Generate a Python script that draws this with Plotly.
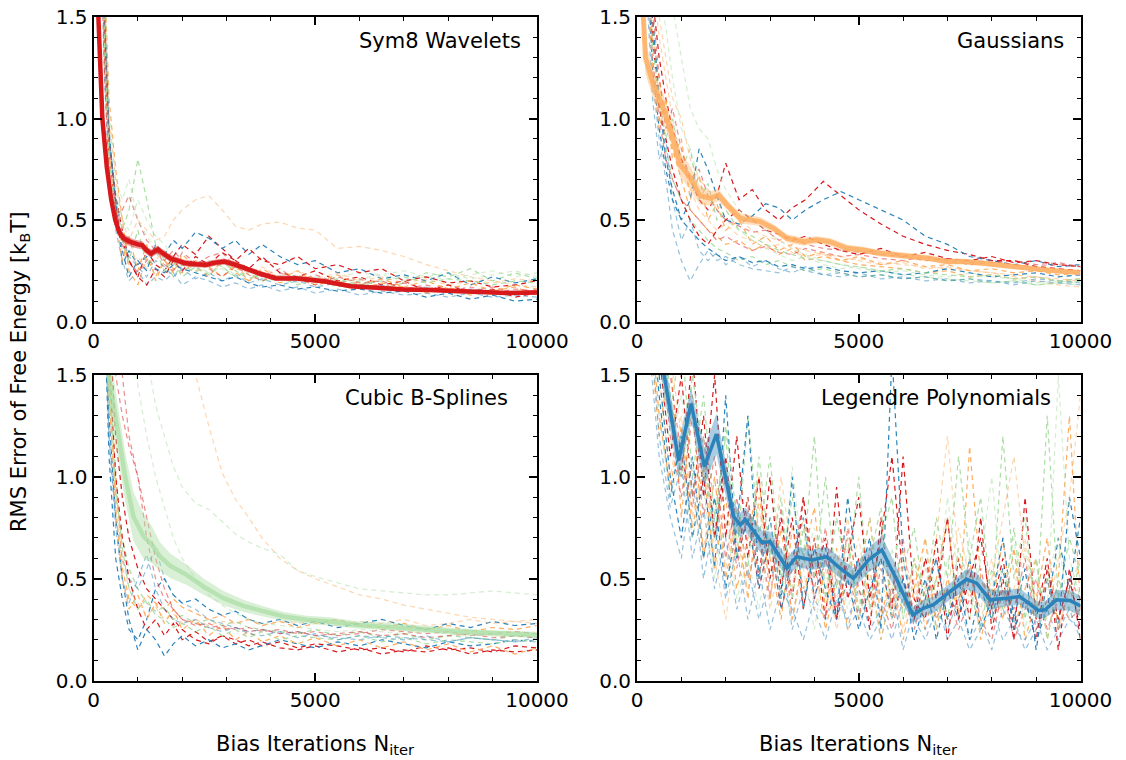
import plotly.graph_objects as go

# ---------------- data ----------------
RUN_X = [50, 150, 250, 350, 500, 650, 800, 1000, 1200, 1400,
         1600, 1800, 2000, 2300, 2600, 2900, 3200, 3500, 3800, 4200,
         4600, 5000, 5500, 6000, 6500, 7000, 7500, 8000, 8500, 9000,
         9500, 10000]

LEG_RUN_X = [100, 250, 500, 750, 1000, 1250, 1500, 1750, 2000, 2250,
             2500, 2750, 3000, 3250, 3500, 3750, 4000, 4250, 4500, 4750,
             5000, 5250, 5500, 5750, 6000, 6250, 6500, 6750, 7000, 7250,
             7500, 7750, 8000, 8250, 8500, 8750, 9000, 9250, 9500, 9750,
             10000]

RUN_COLORS = ["#d7191c", "#fdae61", "#abdda4", "#2b83ba", "#d7191c",
              "#fdae61", "#abdda4", "#2b83ba", "#d7191c", "#2b83ba",
              "#fdae61", "#abdda4", "#d7191c", "#2b83ba", "#fdae61",
              "#abdda4"]
RUN_ALPHA = [1.0, 1.0, 1.0, 1.0, 0.5, 0.5, 0.5, 0.5, 1.0, 1.0,
             1.0, 1.0, 0.5, 0.5, 0.5, 0.5]

SYM8_RUNS = [
    [4.5, 2.6, 1.4, 0.9, 0.62, 0.45, 0.3, 0.22, 0.35, 0.28,
     0.25, 0.32, 0.38, 0.33, 0.42, 0.36, 0.3, 0.26, 0.32, 0.24,
     0.22, 0.25, 0.2, 0.22, 0.18, 0.2, 0.15, 0.18, 0.14, 0.16,
     0.12, 0.14],
    [5.0, 3.0, 1.7, 1.1, 0.75, 0.5, 0.25, 0.18, 0.32, 0.22,
     0.3, 0.26, 0.24, 0.3, 0.27, 0.22, 0.28, 0.2, 0.24, 0.19,
     0.22, 0.18, 0.2, 0.16, 0.19, 0.17, 0.14, 0.17, 0.13, 0.15,
     0.17, 0.13],
    [3.8, 2.2, 1.3, 0.85, 0.6, 0.45, 0.55, 0.8, 0.6, 0.38,
     0.3, 0.22, 0.28, 0.24, 0.3, 0.27, 0.22, 0.25, 0.2, 0.22,
     0.18, 0.21, 0.17, 0.2, 0.16, 0.19, 0.24, 0.22, 0.26, 0.2,
     0.24, 0.21],
    [4.2, 2.5, 1.5, 0.95, 0.55, 0.35, 0.22, 0.3, 0.25, 0.38,
     0.33, 0.4, 0.36, 0.44, 0.41, 0.36, 0.4, 0.33, 0.38, 0.32,
     0.28, 0.3, 0.24, 0.26, 0.21, 0.23, 0.2, 0.24, 0.18, 0.22,
     0.19, 0.21],
    [3.5, 2.0, 1.2, 0.75, 0.5, 0.55, 0.62, 0.5, 0.4, 0.35,
     0.3, 0.35, 0.3, 0.28, 0.32, 0.34, 0.27, 0.25, 0.22, 0.26,
     0.2, 0.23, 0.19, 0.21, 0.17, 0.19, 0.16, 0.18, 0.15, 0.17,
     0.14, 0.16],
    [4.8, 2.8, 1.6, 1.0, 0.7, 0.5, 0.4, 0.5, 0.45, 0.4,
     0.42, 0.5, 0.55, 0.6, 0.62, 0.55, 0.47, 0.45, 0.48, 0.49,
     0.46, 0.45, 0.36, 0.37, 0.35, 0.32, 0.28, 0.25, 0.22, 0.2,
     0.18, 0.17],
    [4.0, 2.4, 1.4, 0.9, 0.65, 0.5, 0.45, 0.6, 0.5, 0.42,
     0.38, 0.3, 0.25, 0.28, 0.24, 0.26, 0.22, 0.24, 0.2, 0.21,
     0.19, 0.2, 0.22, 0.24, 0.23, 0.25, 0.22, 0.21, 0.23, 0.25,
     0.22, 0.24],
    [3.6, 2.1, 1.2, 0.7, 0.45, 0.3, 0.2, 0.25, 0.18, 0.22,
     0.2, 0.24, 0.18, 0.22, 0.2, 0.17, 0.19, 0.16, 0.18, 0.15,
     0.17, 0.14, 0.16, 0.13, 0.15, 0.13, 0.14, 0.12, 0.14, 0.12,
     0.13, 0.12],
    [4.0, 2.3, 1.3, 0.8, 0.55, 0.4, 0.3, 0.22, 0.18, 0.26,
     0.22, 0.3, 0.25, 0.32, 0.28, 0.34, 0.3, 0.36, 0.3, 0.28,
     0.32, 0.26, 0.28, 0.24, 0.26, 0.2, 0.22, 0.19, 0.2, 0.17,
     0.18, 0.2],
    [4.6, 2.7, 1.5, 0.9, 0.6, 0.28, 0.35, 0.28, 0.32, 0.26,
     0.24, 0.28, 0.26, 0.24, 0.22, 0.2, 0.22, 0.19, 0.17, 0.18,
     0.16, 0.17, 0.15, 0.16, 0.14, 0.15, 0.12, 0.14, 0.11, 0.13,
     0.1, 0.11],
    [4.3, 2.5, 1.45, 0.85, 0.5, 0.3, 0.42, 0.25, 0.38, 0.2,
     0.3, 0.24, 0.33, 0.27, 0.22, 0.3, 0.24, 0.2, 0.26, 0.21,
     0.25, 0.19, 0.23, 0.18, 0.21, 0.17, 0.2, 0.16, 0.19, 0.15,
     0.18, 0.16],
    [3.9, 2.3, 1.35, 0.8, 0.52, 0.4, 0.3, 0.45, 0.28, 0.35,
     0.25, 0.3, 0.22, 0.27, 0.23, 0.29, 0.25, 0.21, 0.24, 0.2,
     0.23, 0.19, 0.21, 0.18, 0.2, 0.22, 0.19, 0.21, 0.2, 0.18,
     0.2, 0.19],
    [4.1, 2.4, 1.45, 0.9, 0.58, 0.38, 0.3, 0.24, 0.3, 0.36,
     0.28, 0.25, 0.34, 0.29, 0.26, 0.22, 0.27, 0.23, 0.2, 0.24,
     0.21, 0.18, 0.22, 0.19, 0.2, 0.16, 0.18, 0.15, 0.17, 0.14,
     0.16, 0.15],
    [4.4, 2.6, 1.5, 0.92, 0.6, 0.42, 0.32, 0.27, 0.22, 0.3,
     0.27, 0.22, 0.26, 0.21, 0.24, 0.2, 0.23, 0.19, 0.21, 0.18,
     0.2, 0.17, 0.19, 0.16, 0.18, 0.15, 0.17, 0.14, 0.16, 0.15,
     0.14, 0.15],
    [3.7, 2.2, 1.3, 0.8, 0.55, 0.35, 0.28, 0.32, 0.26, 0.3,
     0.35, 0.28, 0.3, 0.25, 0.28, 0.3, 0.26, 0.24, 0.27, 0.22,
     0.25, 0.21, 0.24, 0.2, 0.22, 0.19, 0.21, 0.18, 0.2, 0.19,
     0.21, 0.2],
    [4.7, 2.9, 1.7, 1.05, 0.7, 0.6, 0.7, 0.5, 0.42, 0.36,
     0.32, 0.28, 0.3, 0.26, 0.24, 0.27, 0.23, 0.25, 0.21, 0.23,
     0.2, 0.22, 0.19, 0.21, 0.23, 0.2, 0.22, 0.24, 0.21, 0.23,
     0.25, 0.22],
]

GAUSS_RUNS = [
    [5.0, 3.0, 2.0, 1.6, 1.3, 1.1, 0.95, 0.8, 0.7, 0.6,
     0.55, 0.62, 0.78, 0.6, 0.65, 0.55, 0.5, 0.56, 0.6, 0.69,
     0.62, 0.55, 0.48, 0.42, 0.38, 0.35, 0.33, 0.3, 0.3, 0.27,
     0.26, 0.25],
    [4.5, 2.8, 1.8, 1.4, 1.2, 1.0, 0.85, 0.7, 0.55, 0.5,
     0.45, 0.42, 0.38, 0.4, 0.35, 0.38, 0.33, 0.36, 0.3, 0.32,
     0.3, 0.28, 0.27, 0.26, 0.24, 0.25, 0.22, 0.23, 0.21, 0.22,
     0.2, 0.21],
    [4.0, 2.6, 1.9, 1.5, 1.1, 0.85, 0.7, 0.6, 0.5, 0.45,
     0.4, 0.36, 0.34, 0.3, 0.32, 0.28, 0.3, 0.27, 0.25, 0.26,
     0.24, 0.22, 0.23, 0.21, 0.22, 0.2, 0.21, 0.19, 0.2, 0.18,
     0.19, 0.2],
    [4.8, 3.0, 2.0, 1.5, 1.1, 0.8, 0.65, 0.5, 0.6, 0.85,
     0.75, 0.62, 0.5, 0.48, 0.52, 0.58, 0.56, 0.5, 0.55, 0.6,
     0.64, 0.6, 0.55, 0.5, 0.42, 0.38, 0.32, 0.3, 0.28, 0.3,
     0.27, 0.28],
    [4.2, 2.7, 1.8, 1.3, 1.0, 0.8, 0.7, 0.6, 0.55, 0.5,
     0.45, 0.4, 0.42, 0.38, 0.35, 0.37, 0.34, 0.33, 0.36, 0.34,
     0.32, 0.33, 0.31, 0.3, 0.32, 0.3, 0.28, 0.29, 0.3, 0.28,
     0.29, 0.27],
    [5.2, 3.2, 2.2, 1.7, 1.4, 1.2, 1.0, 0.8, 0.65, 0.55,
     0.5, 0.45, 0.48, 0.42, 0.4, 0.36, 0.38, 0.34, 0.32, 0.33,
     0.3, 0.31, 0.29, 0.28, 0.27, 0.26, 0.25, 0.24, 0.22, 0.2,
     0.18, 0.17],
    [6.0, 3.5, 2.5, 2.0, 1.6, 1.45, 1.2, 0.95, 0.85, 0.7,
     0.6, 0.55, 0.5, 0.45, 0.4, 0.36, 0.33, 0.3, 0.32, 0.28,
     0.26, 0.27, 0.24, 0.25, 0.23, 0.22, 0.24, 0.22, 0.21, 0.19,
     0.2, 0.19],
    [3.8, 2.4, 1.6, 1.2, 0.9, 0.7, 0.45, 0.3, 0.2, 0.28,
     0.35, 0.3, 0.32, 0.28, 0.26, 0.25, 0.24, 0.27, 0.25, 0.23,
     0.24, 0.22, 0.23, 0.21, 0.22, 0.2, 0.21, 0.2, 0.19, 0.21,
     0.2, 0.19],
    [4.4, 2.9, 1.9, 1.4, 1.05, 0.9, 0.75, 0.6, 0.5, 0.42,
     0.38, 0.45, 0.5, 0.55, 0.5, 0.45, 0.43, 0.4, 0.42, 0.38,
     0.35, 0.33, 0.36, 0.32, 0.34, 0.31, 0.3, 0.32, 0.29, 0.3,
     0.28, 0.27],
    [4.1, 2.5, 1.7, 1.25, 0.95, 0.75, 0.6, 0.5, 0.45, 0.4,
     0.36, 0.33, 0.3, 0.32, 0.29, 0.3, 0.27, 0.28, 0.26, 0.27,
     0.25, 0.24, 0.25, 0.23, 0.24, 0.26, 0.24, 0.22, 0.23, 0.24,
     0.22, 0.23],
    [4.6, 2.9, 1.6, 1.25, 0.95, 1.1, 0.8, 0.9, 0.6, 0.72,
     0.5, 0.58, 0.45, 0.5, 0.38, 0.42, 0.35, 0.38, 0.32, 0.34,
     0.3, 0.32, 0.28, 0.3, 0.27, 0.28, 0.25, 0.26, 0.24, 0.25,
     0.23, 0.24],
    [5.5, 3.3, 1.9, 1.35, 1.1, 0.9, 1.0, 0.75, 0.85, 0.6,
     0.68, 0.5, 0.55, 0.45, 0.42, 0.38, 0.35, 0.33, 0.31, 0.3,
     0.28, 0.27, 0.25, 0.26, 0.24, 0.23, 0.22, 0.23, 0.21, 0.22,
     0.2, 0.21],
    [4.9, 3.1, 2.0, 1.55, 1.2, 0.95, 1.05, 0.85, 0.7, 0.75,
     0.62, 0.55, 0.5, 0.47, 0.44, 0.45, 0.4, 0.42, 0.38, 0.36,
     0.35, 0.34, 0.33, 0.32, 0.3, 0.31, 0.29, 0.3, 0.28, 0.27,
     0.28, 0.27],
    [4.3, 2.6, 1.5, 1.1, 0.8, 0.9, 0.6, 0.4, 0.5, 0.35,
     0.3, 0.34, 0.28, 0.32, 0.27, 0.3, 0.26, 0.24, 0.27, 0.23,
     0.22, 0.24, 0.21, 0.22, 0.2, 0.21, 0.19, 0.2, 0.18, 0.2,
     0.19, 0.18],
    [5.8, 3.4, 2.3, 1.8, 1.5, 1.3, 1.1, 1.0, 0.8, 0.7,
     0.65, 0.55, 0.6, 0.5, 0.45, 0.42, 0.4, 0.37, 0.35, 0.33,
     0.32, 0.3, 0.28, 0.29, 0.26, 0.27, 0.25, 0.24, 0.23, 0.22,
     0.21, 0.2],
    [7.0, 5.0, 3.5, 2.6, 2.0, 1.7, 1.55, 1.3, 1.05, 0.95,
     0.9, 0.75, 0.65, 0.55, 0.5, 0.45, 0.4, 0.36, 0.33, 0.3,
     0.28, 0.26, 0.25, 0.23, 0.22, 0.21, 0.2, 0.19, 0.2, 0.18,
     0.19, 0.18],
]

BSPL_RUNS = [
    [6.0, 4.0, 2.5, 1.8, 1.2, 0.9, 0.7, 0.55, 0.45, 0.4,
     0.35, 0.3, 0.25, 0.2, 0.18, 0.22, 0.2, 0.17, 0.19, 0.16,
     0.15, 0.17, 0.14, 0.16, 0.13, 0.15, 0.14, 0.16, 0.13, 0.15,
     0.14, 0.15],
    [5.5, 3.5, 2.2, 1.5, 1.0, 0.55, 0.4, 0.35, 0.42, 0.38,
     0.35, 0.4, 0.36, 0.33, 0.3, 0.32, 0.28, 0.3, 0.27, 0.29,
     0.26, 0.28, 0.3, 0.27, 0.26, 0.28, 0.25, 0.27, 0.24, 0.26,
     0.25, 0.27],
    [5.0, 3.2, 2.0, 1.4, 0.9, 0.7, 0.55, 0.45, 0.38, 0.34,
     0.36, 0.3, 0.32, 0.28, 0.3, 0.27, 0.29, 0.26, 0.25, 0.24,
     0.23, 0.25, 0.22, 0.24, 0.21, 0.23, 0.2, 0.22, 0.21, 0.2,
     0.22, 0.21],
    [4.8, 3.0, 1.8, 1.1, 0.6, 0.4, 0.25, 0.2, 0.3, 0.45,
     0.5, 0.42, 0.38, 0.4, 0.35, 0.32, 0.34, 0.3, 0.28, 0.3,
     0.27, 0.29, 0.26, 0.28, 0.3, 0.27, 0.25, 0.28, 0.26, 0.29,
     0.27, 0.28],
    [6.5, 4.5, 3.0, 2.2, 1.8, 1.5, 1.2, 1.0, 0.8, 0.6,
     0.45, 0.35, 0.3, 0.28, 0.26, 0.27, 0.25, 0.26, 0.24, 0.25,
     0.23, 0.24, 0.22, 0.23, 0.25, 0.24, 0.23, 0.24, 0.22, 0.23,
     0.24, 0.23],
    [7.0, 5.5, 4.5, 4.0, 3.5, 3.0, 2.7, 2.4, 2.2, 2.05,
     1.9, 1.8, 1.7, 1.5, 1.25, 1.02, 0.89, 0.8, 0.7, 0.6,
     0.54, 0.5, 0.46, 0.42, 0.4, 0.37, 0.35, 0.33, 0.31, 0.3,
     0.29, 0.28],
    [6.0, 4.5, 3.5, 2.8, 2.3, 2.0, 1.8, 1.7, 1.6, 1.35,
     1.2, 1.05, 0.95, 0.87, 0.84, 0.78, 0.72, 0.68, 0.65, 0.62,
     0.54, 0.51, 0.48, 0.45, 0.44, 0.43, 0.42, 0.42, 0.43, 0.44,
     0.43, 0.42],
    [5.0, 3.0, 1.8, 1.2, 0.8, 0.6, 0.5, 0.45, 0.55, 0.65,
     0.5, 0.42, 0.38, 0.35, 0.3, 0.28, 0.26, 0.24, 0.25, 0.23,
     0.24, 0.22, 0.21, 0.2, 0.22, 0.21, 0.2, 0.19, 0.21, 0.2,
     0.19, 0.2],
    [5.8, 3.8, 2.4, 1.6, 1.0, 0.7, 0.5, 0.35, 0.25, 0.3,
     0.22, 0.28, 0.2, 0.24, 0.19, 0.22, 0.18, 0.2, 0.17, 0.19,
     0.16, 0.18, 0.17, 0.15, 0.16, 0.14, 0.17, 0.15, 0.16, 0.14,
     0.17, 0.16],
    [5.2, 3.3, 2.0, 1.3, 0.8, 0.5, 0.3, 0.15, 0.25, 0.2,
     0.12, 0.18, 0.22, 0.17, 0.2, 0.16, 0.18, 0.15, 0.17, 0.2,
     0.18, 0.16, 0.19, 0.17, 0.2, 0.18, 0.16, 0.19, 0.17, 0.18,
     0.2, 0.19],
    [5.3, 3.4, 2.1, 1.4, 0.85, 0.5, 0.35, 0.42, 0.3, 0.38,
     0.28, 0.35, 0.25, 0.3, 0.22, 0.27, 0.2, 0.24, 0.19, 0.22,
     0.18, 0.21, 0.17, 0.2, 0.16, 0.19, 0.15, 0.18, 0.14, 0.17,
     0.13, 0.16],
    [5.6, 3.6, 2.3, 1.5, 0.95, 0.65, 0.45, 0.35, 0.4, 0.32,
     0.3, 0.26, 0.28, 0.24, 0.27, 0.22, 0.25, 0.21, 0.24, 0.2,
     0.22, 0.21, 0.2, 0.22, 0.19, 0.21, 0.18, 0.2, 0.19, 0.18,
     0.2, 0.19],
    [6.2, 4.2, 2.8, 2.0, 1.5, 1.3, 1.15, 1.0, 0.7, 0.5,
     0.4, 0.35, 0.3, 0.27, 0.28, 0.25, 0.26, 0.24, 0.25, 0.23,
     0.24, 0.22, 0.23, 0.24, 0.22, 0.23, 0.21, 0.22, 0.23, 0.21,
     0.22, 0.21],
    [5.1, 3.2, 1.9, 1.2, 0.75, 0.5, 0.38, 0.5, 0.62, 0.45,
     0.35, 0.3, 0.28, 0.3, 0.26, 0.24, 0.26, 0.23, 0.22, 0.24,
     0.21, 0.23, 0.2, 0.22, 0.21, 0.2, 0.22, 0.19, 0.21, 0.2,
     0.19, 0.21],
    [5.4, 3.5, 2.2, 1.45, 0.9, 0.6, 0.45, 0.38, 0.32, 0.36,
     0.3, 0.33, 0.28, 0.3, 0.27, 0.29, 0.28, 0.3, 0.27, 0.29,
     0.28, 0.3, 0.27, 0.29, 0.28, 0.3, 0.27, 0.28, 0.3, 0.28,
     0.29, 0.3],
    [6.8, 5.0, 3.8, 3.0, 2.4, 2.0, 1.7, 1.45, 1.2, 1.0,
     0.85, 0.7, 0.6, 0.5, 0.42, 0.37, 0.33, 0.3, 0.28, 0.27,
     0.26, 0.25, 0.24, 0.25, 0.24, 0.23, 0.24, 0.23, 0.22, 0.23,
     0.22, 0.23],
]

LEG_RUNS = [
    [3.0, 2.2, 1.6, 1.1, 1.5, 0.9, 1.3, 0.7, 1.1, 0.6,
     0.9, 0.5, 1.0, 0.45, 0.8, 0.35, 0.7, 0.3, 0.95, 0.4,
     0.6, 0.25, 0.8, 0.35, 1.1, 0.4, 0.3, 0.7, 0.2, 0.6,
     0.3, 0.8, 0.25, 0.5, 0.2, 0.9, 0.3, 0.6, 0.15, 0.55,
     0.2],
    [2.8, 1.8, 1.2, 1.6, 0.8, 1.4, 0.6, 1.0, 0.5, 0.8,
     0.4, 0.9, 0.6, 0.3, 0.75, 0.45, 0.6, 0.25, 0.5, 0.7,
     0.3, 0.55, 0.2, 0.45, 0.35, 0.6, 0.25, 0.5, 0.8, 0.3,
     1.15, 0.5, 0.35, 0.7, 0.25, 0.45, 0.6, 0.2, 0.5, 1.3,
     0.35],
    [3.2, 2.5, 1.9, 1.3, 1.7, 1.0, 1.4, 0.8, 1.2, 0.6,
     1.3, 0.7, 1.1, 0.5, 0.9, 0.6, 1.2, 0.4, 0.8, 0.5,
     1.0, 0.35, 0.7, 0.9, 0.3, 0.6, 0.4, 0.8, 0.5, 1.1,
     0.6, 0.9, 0.35, 1.2, 0.5, 0.8, 0.3, 1.3, 0.4, 0.7,
     0.5],
    [2.9, 2.0, 1.4, 0.9, 1.2, 0.7, 1.0, 0.55, 1.4, 0.6,
     0.8, 0.45, 0.7, 0.35, 0.6, 0.8, 0.4, 0.65, 0.3, 0.9,
     0.5, 0.7, 0.25, 1.6, 0.6, 0.3, 0.5, 0.2, 0.45, 0.3,
     0.6, 0.25, 0.4, 0.7, 0.3, 0.55, 0.15, 0.5, 0.25, 0.9,
     0.6],
    [3.5, 2.6, 1.8, 1.2, 0.9, 1.3, 0.8, 1.1, 0.6, 0.9,
     0.5, 0.7, 0.4, 0.85, 0.3, 0.6, 0.45, 0.75, 0.35, 0.55,
     0.3, 0.65, 0.4, 0.25, 0.5, 0.35, 0.6, 0.3, 0.45, 0.25,
     0.4, 0.55, 0.3, 0.45, 0.2, 0.35, 0.5, 0.25, 0.4, 0.3,
     0.35],
    [3.1, 2.3, 1.5, 1.0, 1.3, 0.8, 1.1, 0.6, 0.3, 0.7,
     0.45, 0.85, 0.5, 1.0, 0.6, 0.4, 0.7, 0.35, 0.55, 0.8,
     0.4, 0.3, 0.6, 0.45, 0.25, 0.5, 0.35, 0.7, 1.2, 0.6,
     0.4, 0.3, 0.5, 0.8, 1.1, 0.6, 0.4, 0.3, 0.6, 0.9,
     1.4],
    [2.6, 2.0, 1.3, 0.9, 1.1, 0.7, 0.95, 0.5, 0.8, 0.4,
     0.6, 0.35, 0.7, 0.5, 0.3, 0.55, 0.25, 0.6, 0.4, 0.65,
     0.3, 0.5, 0.2, 0.45, 0.6, 0.3, 0.7, 0.4, 0.9, 0.5,
     0.3, 0.6, 1.0, 0.4, 0.7, 0.25, 0.5, 0.35, 1.5, 0.6,
     0.4],
    [2.4, 1.7, 1.1, 0.8, 0.6, 1.0, 0.5, 0.8, 0.4, 0.65,
     0.3, 0.55, 0.25, 0.45, 0.35, 0.2, 0.4, 0.3, 0.5, 0.25,
     0.35, 0.2, 0.3, 0.45, 0.15, 0.35, 0.25, 0.4, 0.2, 0.3,
     0.15, 0.25, 0.35, 0.2, 0.3, 0.15, 0.25, 0.35, 0.2, 0.3,
     0.25],
    [3.3, 2.4, 1.7, 1.3, 1.0, 1.6, 0.9, 1.5, 0.7, 1.2,
     0.6, 1.0, 0.5, 0.8, 0.4, 0.9, 0.5, 0.7, 0.3, 0.6,
     0.9, 0.4, 0.7, 1.1, 0.5, 0.3, 0.6, 0.4, 0.8, 0.3,
     0.5, 0.7, 0.35, 0.6, 0.25, 0.4, 0.2, 0.55, 0.3, 0.5,
     0.25],
    [3.0, 2.1, 1.5, 1.0, 0.7, 1.1, 0.6, 0.9, 0.45, 0.75,
     1.3, 0.5, 0.8, 0.4, 1.0, 0.35, 0.65, 0.45, 0.3, 0.5,
     0.25, 0.45, 0.6, 0.3, 0.5, 0.2, 0.4, 0.6, 0.3, 0.5,
     0.2, 0.45, 0.3, 0.55, 0.25, 0.4, 0.2, 0.35, 0.7, 0.45,
     0.8],
    [2.7, 1.9, 1.3, 0.95, 1.25, 0.75, 1.05, 0.55, 0.9, 0.45,
     0.7, 1.0, 0.4, 0.75, 0.3, 0.6, 0.85, 0.35, 0.65, 0.25,
     0.5, 0.8, 0.3, 0.55, 0.2, 0.45, 0.7, 0.25, 0.5, 0.35,
     0.6, 0.2, 0.45, 0.3, 0.65, 0.2, 0.4, 0.7, 0.25, 0.45,
     0.3],
    [3.4, 2.6, 2.0, 1.4, 1.0, 1.5, 1.1, 0.7, 1.25, 0.8,
     0.55, 1.1, 0.6, 0.9, 0.4, 0.75, 0.5, 1.0, 0.45, 0.7,
     0.35, 0.6, 0.85, 0.3, 0.55, 0.75, 0.35, 0.5, 0.3, 0.65,
     0.45, 0.25, 0.55, 0.35, 0.75, 0.3, 0.6, 0.2, 0.5, 0.35,
     0.6],
    [3.6, 2.8, 2.0, 1.5, 1.1, 0.85, 1.2, 0.7, 1.0, 0.55,
     0.85, 0.45, 0.7, 0.35, 0.55, 0.9, 0.4, 0.6, 0.3, 0.75,
     0.45, 0.3, 0.55, 0.35, 0.7, 0.25, 0.45, 0.6, 0.3, 0.4,
     0.55, 0.3, 0.2, 0.45, 0.35, 0.6, 0.25, 0.4, 0.3, 0.5,
     0.4],
    [2.5, 1.9, 1.2, 0.85, 1.05, 0.6, 0.85, 0.45, 0.7, 0.35,
     0.55, 0.3, 0.5, 0.65, 0.25, 0.45, 0.35, 0.2, 0.4, 0.3,
     0.45, 0.25, 0.35, 0.2, 0.4, 0.3, 0.2, 0.35, 0.25, 0.4,
     0.2, 0.3, 0.15, 0.35, 0.25, 0.2, 0.3, 0.15, 0.25, 0.35,
     0.2],
    [3.8, 3.0, 2.2, 1.6, 1.2, 0.9, 0.65, 1.0, 0.55, 0.85,
     0.5, 0.7, 0.35, 0.6, 0.45, 0.8, 0.35, 0.55, 0.25, 0.5,
     0.7, 0.35, 0.5, 0.3, 0.65, 0.4, 0.55, 0.3, 0.45, 0.75,
     0.5, 0.35, 0.6, 0.3, 0.45, 0.7, 0.35, 0.5, 0.25, 0.45,
     0.6],
    [2.9, 2.2, 1.6, 1.15, 1.4, 0.9, 1.2, 0.65, 1.05, 0.7,
     0.9, 0.5, 0.8, 0.4, 1.05, 0.55, 0.75, 0.45, 0.6, 0.35,
     0.55, 0.8, 0.4, 0.65, 0.3, 0.55, 0.45, 0.25, 0.6, 0.4,
     0.7, 0.45, 0.3, 0.55, 0.4, 0.65, 0.35, 0.5, 0.7, 0.3,
     0.45],
]

SYM8_MEAN_X = [50, 110, 200, 300, 400, 490, 580, 680, 800, 900,
               1000, 1100, 1200, 1300, 1450, 1600, 1750, 1900, 2050, 2300,
               2550, 2750, 2950, 3200, 3400, 3700, 4100, 4600, 5200, 5800,
               6300, 7000, 7600, 8200, 8800, 9300, 10000]
SYM8_MEAN = [2.4, 1.5, 1.0, 0.76, 0.6, 0.5, 0.44, 0.41, 0.395, 0.385,
             0.38, 0.375, 0.35, 0.335, 0.355, 0.33, 0.31, 0.3, 0.288, 0.282,
             0.28, 0.29, 0.295, 0.28, 0.262, 0.24, 0.213, 0.212, 0.198, 0.174,
             0.168, 0.158, 0.155, 0.148, 0.145, 0.14, 0.143]
SYM8_STD = [0.3, 0.15, 0.08, 0.05, 0.04, 0.03, 0.025, 0.022, 0.02, 0.02,
            0.02, 0.02, 0.02, 0.02, 0.02, 0.018, 0.018, 0.016, 0.016, 0.015,
            0.015, 0.015, 0.015, 0.015, 0.014, 0.014, 0.013, 0.013, 0.012, 0.012,
            0.011, 0.011, 0.01, 0.01, 0.01, 0.01, 0.01]

GAUSS_MEAN_X = [20, 150, 190, 375, 560, 750, 975, 1165, 1425, 1650,
                1840, 2030, 2330, 2780, 3080, 3380, 3750, 4050, 4350, 4730,
                5100, 5480, 5860, 6230, 6600, 6980, 7360, 7810, 8110, 8480,
                8860, 9230, 9610, 10000]
GAUSS_MEAN = [1.8, 1.48, 1.30, 1.16, 1.07, 0.95, 0.77, 0.72, 0.62, 0.607,
              0.623, 0.574, 0.508, 0.492, 0.459, 0.41, 0.393, 0.402, 0.393, 0.361,
              0.352, 0.336, 0.328, 0.32, 0.311, 0.295, 0.295, 0.287, 0.279, 0.27,
              0.262, 0.254, 0.246, 0.241]
GAUSS_STD = [0.15, 0.1, 0.08, 0.07, 0.07, 0.065, 0.06, 0.06, 0.045, 0.035,
             0.03, 0.025, 0.025, 0.022, 0.02, 0.02, 0.02, 0.018, 0.018, 0.018,
             0.016, 0.016, 0.015, 0.015, 0.015, 0.014, 0.014, 0.013, 0.013, 0.012,
             0.012, 0.012, 0.012, 0.012]

BSPL_MEAN_X = [200, 340, 530, 715, 900, 1130, 1320, 1500, 1730, 2100,
               2480, 2930, 3380, 3830, 4290, 4810, 5340, 5940, 6690, 7440,
               8200, 8950, 10000]
BSPL_MEAN = [2.0, 1.5, 1.25, 1.0, 0.805, 0.707, 0.666, 0.609, 0.563, 0.519,
             0.461, 0.404, 0.366, 0.339, 0.314, 0.298, 0.29, 0.273, 0.265, 0.252,
             0.24, 0.232, 0.224]
BSPL_STD = [0.2, 0.15, 0.13, 0.12, 0.12, 0.11, 0.09, 0.07, 0.06, 0.05,
            0.04, 0.035, 0.03, 0.025, 0.022, 0.02, 0.02, 0.018, 0.018, 0.016,
            0.016, 0.015, 0.015]

LEG_MEAN_X = [300, 600, 940, 1220, 1520, 1790, 2180, 2330, 2440, 2820,
              3000, 3380, 3600, 3940, 4280, 4580, 4880, 5220, 5520, 5860,
              6220, 6460, 6680, 7060, 7430, 7660, 7960, 8330, 8630, 9050,
              9200, 9460, 9760, 10000]
LEG_MEAN = [1.9, 1.52, 1.08, 1.36, 1.05, 1.21, 0.805, 0.764, 0.79, 0.677,
            0.682, 0.551, 0.608, 0.592, 0.608, 0.551, 0.502, 0.592, 0.641, 0.494,
            0.322, 0.355, 0.371, 0.437, 0.497, 0.478, 0.396, 0.404, 0.412, 0.344,
            0.347, 0.396, 0.393, 0.366]
LEG_STD = [0.1, 0.1, 0.09, 0.08, 0.09, 0.1, 0.07, 0.06, 0.06, 0.06,
           0.05, 0.05, 0.05, 0.05, 0.05, 0.05, 0.05, 0.06, 0.07, 0.06,
           0.04, 0.04, 0.04, 0.04, 0.05, 0.05, 0.05, 0.04, 0.04, 0.04,
           0.04, 0.05, 0.05, 0.05]

PANEL_TITLES = ["Sym8 Wavelets", "Gaussians", "Cubic B-Splines", "Legendre Polynomials"]
MEAN_COLORS = ["#d7191c", "#fdae61", "#abdda4", "#2b83ba"]
X_TICKS = [0, 5000, 10000]
Y_TICKS = [0.0, 0.5, 1.0, 1.5]
Y_TITLE = "RMS Error of Free Energy [k<sub>B</sub>T]"
X_TITLE = "Bias Iterations N<sub>iter</sub>"

# ---------------- figure ----------------
W, H = 1126, 760
FONT = "DejaVu Sans"


def rgba(hex_color, a):
    h = hex_color.lstrip("#")
    r, g, b = int(h[0:2], 16), int(h[2:4], 16), int(h[4:6], 16)
    return f"rgba({r},{g},{b},{a})"


panels = [
    dict(runs_x=RUN_X, runs=SYM8_RUNS, mx=SYM8_MEAN_X, my=SYM8_MEAN, sd=SYM8_STD,
         mean_alpha=1.0, band_alpha=0.45, lw=4.5),
    dict(runs_x=RUN_X, runs=GAUSS_RUNS, mx=GAUSS_MEAN_X, my=GAUSS_MEAN, sd=GAUSS_STD,
         mean_alpha=0.85, band_alpha=0.4, lw=5),
    dict(runs_x=RUN_X, runs=BSPL_RUNS, mx=BSPL_MEAN_X, my=BSPL_MEAN, sd=BSPL_STD,
         mean_alpha=0.75, band_alpha=0.45, lw=4.5),
    dict(runs_x=LEG_RUN_X, runs=LEG_RUNS, mx=LEG_MEAN_X, my=LEG_MEAN, sd=LEG_STD,
         mean_alpha=1.0, band_alpha=0.4, lw=3.5),
]

# plot-area pixel boxes: (x0, x1, ytop, ybottom)
boxes = [(93.5, 537, 17, 321.5), (637, 1080.5, 17, 321.5),
         (93.5, 537, 375, 680.5), (637, 1080.5, 375, 680.5)]

fig = go.Figure()
layout = {}
for i, (p, box) in enumerate(zip(panels, boxes)):
    k = "" if i == 0 else str(i + 1)
    xa, ya = "x" + k, "y" + k
    for run, col, a in zip(p["runs"], RUN_COLORS, RUN_ALPHA):
        fig.add_trace(go.Scatter(x=p["runs_x"], y=run, mode="lines", xaxis=xa, yaxis=ya,
                                 line=dict(color=rgba(col, a), width=1.2, dash="5px,4px"),
                                 showlegend=False, hoverinfo="skip"))
    c = MEAN_COLORS[i]
    upper = [m + s for m, s in zip(p["my"], p["sd"])]
    lower = [m - s for m, s in zip(p["my"], p["sd"])]
    fig.add_trace(go.Scatter(x=p["mx"], y=upper, mode="lines", xaxis=xa, yaxis=ya,
                             line=dict(width=0, color=rgba(c, 0)), showlegend=False,
                             hoverinfo="skip"))
    fig.add_trace(go.Scatter(x=p["mx"], y=lower, mode="lines", xaxis=xa, yaxis=ya,
                             line=dict(width=0, color=rgba(c, 0)), fill="tonexty",
                             fillcolor=rgba(c, p["band_alpha"]), showlegend=False,
                             hoverinfo="skip"))
    fig.add_trace(go.Scatter(x=p["mx"], y=p["my"], mode="lines", xaxis=xa, yaxis=ya,
                             line=dict(color=rgba(c, p["mean_alpha"]), width=p["lw"]),
                             showlegend=False))

    x0, x1, yt, yb = box
    common = dict(showline=True, linewidth=2, linecolor="black", mirror="allticks",
                  ticks="inside", tickwidth=1.5, tickcolor="black", ticklen=8,
                  showgrid=False, zeroline=False, automargin=False,
                  tickfont=dict(family=FONT, size=20, color="black"))
    layout["xaxis" + k] = dict(common, domain=[x0 / W, x1 / W], range=[0, 10000],
                               tickvals=X_TICKS, ticktext=[str(v) for v in X_TICKS],
                               minor=dict(tickvals=[1000, 2000, 3000, 4000, 6000, 7000, 8000, 9000],
                                          ticks="inside", ticklen=4, tickwidth=1.2,
                                          tickcolor="black"),
                               anchor=ya)
    layout["yaxis" + k] = dict(common, domain=[1 - yb / H, 1 - yt / H], range=[0, 1.5],
                               tickvals=Y_TICKS, tickformat=".1f",
                               minor=dict(dtick=0.1, ticks="inside", ticklen=4,
                                          tickwidth=1.2, tickcolor="black"),
                               anchor=xa)

annotations = []
title_pos = [(0.968, 0.921), (0.968, 0.921), (0.939, 0.925), (0.939, 0.925)]
for i, (t, (ax_, ay_)) in enumerate(zip(PANEL_TITLES, title_pos)):
    k = "" if i == 0 else str(i + 1)
    annotations.append(dict(text=t, xref="x" + k + " domain", yref="y" + k + " domain",
                            x=ax_, y=ay_, xanchor="right", yanchor="middle",
                            showarrow=False, font=dict(family=FONT, size=21, color="black")))
annotations.append(dict(text=Y_TITLE, xref="paper", yref="paper", x=20 / W, y=1 - 372 / H,
                        xanchor="center", yanchor="middle", textangle=-90, showarrow=False,
                        font=dict(family=FONT, size=21, color="black")))
for cx in [(93.5 + 537) / 2, (637 + 1080.5) / 2]:
    annotations.append(dict(text=X_TITLE, xref="paper", yref="paper", x=cx / W, y=1 - 745 / H,
                            xanchor="center", yanchor="middle", showarrow=False,
                            font=dict(family=FONT, size=21, color="black")))

fig.update_layout(width=W, height=H, margin=dict(l=0, r=0, t=0, b=0),
                  paper_bgcolor="white", plot_bgcolor="white",
                  annotations=annotations, showlegend=False, **layout)

fig.write_html("out.html")
